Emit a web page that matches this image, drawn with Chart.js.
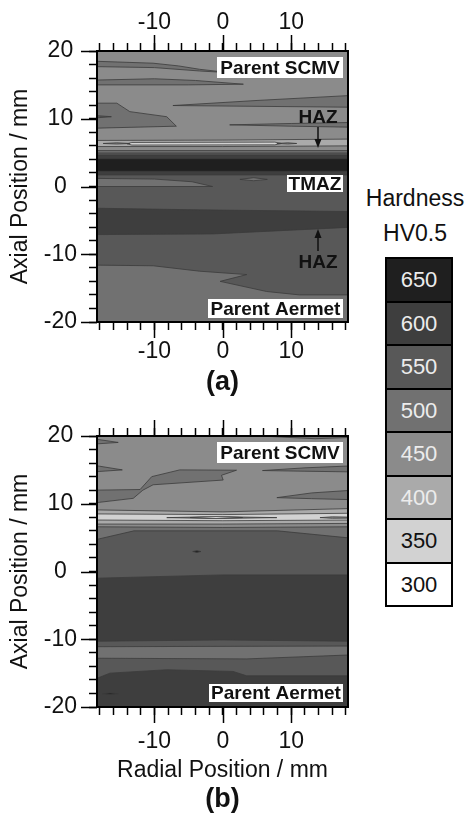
<!DOCTYPE html>
<html>
<head>
<meta charset="utf-8">
<script src="https://cdn.jsdelivr.net/npm/chart.js@4.4.1/dist/chart.umd.min.js"></script>
<style>
  body { margin: 0; background: #fff; font-family: "Liberation Sans", Arial, sans-serif; color: #111; }
  #page { position: relative; width: 467px; height: 819px; overflow: hidden; }
  canvas { position: absolute; left: 0; }
  #chartA { top: 0; }
  #chartB { top: 400px; }
  .keyTitle { position: absolute; left: 360px; width: 110px; text-align: center; font-size: 23px; line-height: 28px; }
  #keyCells { position: absolute; left: 385px; top: 257px; width: 64px; border: 2px solid #000; }
  #keyCells div { height: 41.5px; line-height: 41.5px; text-align: center; font-size: 22px; border-top: 2px solid #000; }
  #keyCells div:first-child { border-top: none; }
</style>
</head>
<body>
<div id="page">
  <canvas id="chartA" width="360" height="400"></canvas>
  <canvas id="chartB" width="360" height="419"></canvas>
  <div class="keyTitle" style="top:184px">Hardness</div>
  <div class="keyTitle" style="top:219px">HV0.5</div>
  <div id="keyCells"></div>
</div>
<script>
// hardness contour levels (HV0.5) and the grey used for each band
const levels = [300, 350, 400, 450, 500, 550, 600, 650];
const greys = ['#ffffff', '#d2d2d2', '#aaaaaa', '#8b8b8b', '#717171', '#585858', '#3e3e3e', '#1f1f1f'];

const radialRange = [-18.4, 18.3];
const axialRange = [-20, 20];
const radialTicks = [-18, -16, -14, -12, -10, -8, -6, -4, -2, 0, 2, 4, 6, 8, 10, 12, 14, 16, 18];
const majorTicks = [-20, -10, 0, 10, 20];

// weld (a): band of each region, bottom layer first
const bandsA = [550, 500, 600, 600, 650, 600, 550, 500, 450, 400, 450, 350, 450, 450,
                500, 500, 500, 500, 550, 500, 500, 500];
// outline of each region as [radial, axial] pairs in mm
const outlinesA = [
  [[-19, 21], [19, 21], [19, -21], [-19, -21]],
  [[-19, -11.6], [-10.2, -11.7], [-3.4, -12.5], [3.5, -13.0], [-0.4, -14.0], [6.4, -15.5], [11.2, -16.0], [19, -16.0], [19, -21], [-19, -21]],
  [[-19, -3.2], [-3.4, -3.45], [19, -3.7], [19, -6.0], [-1.5, -7.0], [-19, -7.1]],
  [[-19, 21], [19, 21], [19, 1.7], [-19, 1.7]],
  [[-19, 21], [19, 21], [19, 2.25], [-19, 2.25]],
  [[-19, 21], [19, 21], [19, 4.1], [-19, 4.1]],
  [[-19, 21], [19, 21], [19, 4.65], [-19, 4.65]],
  [[-19, 21], [19, 21], [19, 4.95], [-19, 4.95]],
  [[-19, 21], [19, 21], [19, 5.3], [-19, 5.3]],
  [[-19, 21], [19, 21], [19, 6.0], [0, 5.9], [-19, 5.9]],
  [[-19, 21], [19, 21], [19, 7.0], [0, 6.85], [-19, 6.8]],
  [[-14, 6.3], [-13.3, 6.5], [7.6, 6.55], [8.6, 6.35], [7.6, 6.15], [-13.3, 6.12]],
  [[-17.5, 6.35], [-15.5, 6.45], [-13.6, 6.35], [-15.5, 6.27]],
  [[7.9, 6.35], [9.5, 6.45], [10.8, 6.35], [9.5, 6.27]],
  [[-19, 18.5], [-10.2, 18.2], [-6.5, 17.8], [-3.4, 17.3], [1, 16.8], [-3.4, 17.05], [-10, 17.55], [-19, 17.7]],
  [[-19, 15.7], [-10, 15.9], [-4, 15.65], [3, 15.1], [-5, 15.0], [-19, 15.0]],
  [[-7.3, 11.95], [5, 12.7], [19, 13.45], [19, 11.7]],
  [[-19, 12.3], [-15.5, 12.3], [-13.6, 11.05], [-8.2, 10.3], [-6.8, 8.9], [-19, 8.6]],
  [[-19, 10.5], [-16.3, 10.3], [-19, 10.1]],
  [[1.0, 9.1], [10, 9.3], [19, 9.45], [19, 8.75], [10, 8.9]],
  [[-19, 1.2], [-10, 1.1], [-4.5, 0.7], [-1.5, 0.0], [-19, 0.0]],
  [[2.5, 1.05], [4.5, 1.3], [6.5, 1.05], [4.5, 0.85]]
];

// weld (b)
const bandsB = [600, 550, 500, 550, 500, 450, 400, 450, 350, 450, 450, 300,
                500, 500, 500, 500, 500, 500, 650, 650];
const outlinesB = [
  [[-19, 21], [19, 21], [19, -21], [-19, -21]],
  [[-19, -10.3], [0, -10.1], [19, -10.3], [19, -15.4], [3.5, -15.4], [1.5, -14.75], [-8.2, -14.5], [-16.5, -15.0], [-19, -16.0]],
  [[-19, -11.1], [19, -11.0], [19, -12.3], [3.5, -12.9], [-19, -12.8]],
  [[-19, 21], [19, 21], [19, -0.5], [0, -0.5], [-19, -1.0]],
  [[-19, 21], [19, 21], [19, 4.9], [8, 6.0], [-13, 6.0], [-19, 4.6]],
  [[-19, 21], [19, 21], [19, 6.6], [0, 6.5], [-19, 6.6]],
  [[-19, 21], [19, 21], [19, 7.1], [0, 7.0], [-19, 7.0]],
  [[-19, 21], [19, 21], [19, 9.3], [0, 8.8], [-19, 9.1]],
  [[-19, 8.5], [0, 8.4], [19, 8.6], [19, 7.6], [0, 7.5], [-19, 7.6]],
  [[-8.2, 7.95], [-1, 8.1], [7.9, 7.95], [-1, 7.82]],
  [[14.2, 7.95], [16, 8.07], [19, 8.02], [19, 7.88], [16, 7.85]],
  [[-4.8, 7.97], [-1, 8.1], [2.9, 7.97], [-1, 7.85]],
  [[-19, 19.6], [-15.3, 19.05], [-19, 18.8]],
  [[-19, 15.7], [-14.7, 15.0], [-19, 14.7]],
  [[-19, 12.0], [-12.1, 12.1], [-10.4, 14.0], [-6.3, 15.0], [2.0, 14.95], [-0.2, 14.2], [0.05, 13.5], [-10.2, 12.8], [-11.7, 12.0], [-13.1, 10.8], [-19, 10.1]],
  [[5.8, 14.9], [12, 15.3], [19, 15.6], [19, 14.7], [12, 14.8]],
  [[7.9, 10.9], [13, 11.6], [19, 12.0], [19, 10.6], [13, 10.75]],
  [[6.4, 20.5], [19, 20.5], [19, 19.8], [13.5, 19.6], [6.4, 19.95]],
  [[-4.4, 2.95], [-3.8, 3.08], [-3.2, 2.95], [-3.8, 2.82]],
  [[-17.6, -18.05], [-16.5, -17.93], [-15.3, -18.05], [-16.5, -18.17]]
];

const fontFamily = '"Liberation Sans", Arial, sans-serif';

// legend cells, highest level on top
const keyCells = document.getElementById('keyCells');
levels.slice().reverse().forEach(lv => {
  const cell = document.createElement('div');
  cell.textContent = lv;
  cell.style.background = greys[levels.indexOf(lv)];
  cell.style.color = lv >= 400 ? '#ececec' : '#111';
  keyCells.appendChild(cell);
});

// each region is a closed polygon filled with its band grey
function buildDatasets(bands, outlines) {
  return outlines.map((pts, i) => ({
    data: pts.concat([pts[0]]).map(([x, y]) => ({x, y})),
    showLine: true,
    fill: 'shape',
    backgroundColor: greys[levels.indexOf(bands[i])],
    borderColor: '#3b3b3b',
    borderWidth: 0.8,
    pointRadius: 0,
    pointHoverRadius: 0,
    tension: 0
  })).reverse(); // first dataset is drawn last, so flip to keep the layer order
}

// longer ticks at the labelled values plus the black frame
const frameAndTicks = {
  id: 'frameAndTicks',
  afterDraw(chart) {
    const {ctx, chartArea: a} = chart;
    ctx.save();
    ctx.strokeStyle = '#000';
    ctx.lineWidth = 1.5;
    ctx.beginPath();
    Object.values(chart.scales).forEach(s => {
      majorTicks.forEach(v => {
        if (v < s.min || v > s.max) return;
        const p = Math.round(s.getPixelForValue(v)) + 0.5;
        if (s.position === 'left') { ctx.moveTo(a.left - 16, p); ctx.lineTo(a.left, p); }
        if (s.position === 'top') { ctx.moveTo(p, a.top - 16); ctx.lineTo(p, a.top); }
        if (s.position === 'bottom') { ctx.moveTo(p, a.bottom); ctx.lineTo(p, a.bottom + 16); }
      });
    });
    ctx.stroke();
    ctx.lineWidth = 2;
    ctx.strokeRect(a.left, a.top, a.right - a.left, a.bottom - a.top);
    ctx.restore();
  }
};

// zone labels, arrows and the panel tag
const notes = {
  id: 'notes',
  afterDraw(chart, args, opts) {
    const {ctx, chartArea: a} = chart;
    ctx.save();
    ctx.textAlign = 'center';
    ctx.textBaseline = 'middle';
    ctx.font = 'bold 19px ' + fontFamily;
    (opts.boxes || []).forEach(b => {
      const x = a.right - b.right - b.w;
      const y = b.top !== undefined ? a.top + b.top : a.bottom - b.bottom - b.h;
      ctx.fillStyle = '#fff';
      ctx.fillRect(x, y, b.w, b.h);
      ctx.fillStyle = '#111';
      ctx.fillText(b.text, x + b.w / 2, y + b.h / 2 + 1);
    });
    (opts.arrows || []).forEach(r => {
      const x = a.right - r.right;
      ctx.fillStyle = '#111';
      ctx.fillText(r.text, x, a.top + r.textY);
      const y1 = a.top + r.from, y2 = a.top + r.to;
      const dir = Math.sign(y2 - y1);
      ctx.strokeStyle = '#111';
      ctx.lineWidth = 1.5;
      ctx.beginPath();
      ctx.moveTo(x, y1);
      ctx.lineTo(x, y2 - dir * 6);
      ctx.stroke();
      ctx.beginPath();
      ctx.moveTo(x, y2);
      ctx.lineTo(x - 3.5, y2 - dir * 9);
      ctx.lineTo(x + 3.5, y2 - dir * 9);
      ctx.closePath();
      ctx.fill();
    });
    if (opts.tag) {
      ctx.font = 'bold 27px ' + fontFamily;
      ctx.fillStyle = '#111';
      ctx.fillText(opts.tag, (a.left + a.right) / 2, a.bottom + opts.tagY);
    }
    ctx.restore();
  }
};

function makeChart(id, bands, outlines, cfg) {
  const font = {family: fontFamily, size: 23};
  const grid = {drawOnChartArea: false, drawTicks: true, tickLength: 8, tickColor: '#000', tickWidth: 1.5};
  const tenths = v => (v % 10 === 0 ? String(v) : '');
  const radialTickList = s => { s.ticks = radialTicks.map(v => ({value: v})); };
  return new Chart(document.getElementById(id), {
    type: 'scatter',
    data: {datasets: buildDatasets(bands, outlines)},
    options: {
      responsive: false,
      animation: false,
      events: [],
      layout: {padding: {left: 0, right: 12, top: 0, bottom: cfg.padBottom}},
      plugins: {legend: {display: false}, tooltip: {enabled: false}, notes: cfg.notes},
      scales: {
        x: {
          type: 'linear', position: 'bottom', min: radialRange[0], max: radialRange[1], bounds: 'data',
          afterBuildTicks: radialTickList,
          ticks: {autoSkip: false, maxRotation: 0, padding: cfg.bottomPad, font, color: '#111', callback: tenths},
          grid, border: {display: false},
          title: {display: !!cfg.xTitle, text: cfg.xTitle || '', font, color: '#111', padding: {top: 0, bottom: 5}},
          afterFit: s => { s.height = cfg.bottomHeight; }
        },
        xTop: {
          axis: 'x', type: 'linear', position: 'top', min: radialRange[0], max: radialRange[1], bounds: 'data',
          afterBuildTicks: radialTickList,
          ticks: {autoSkip: false, maxRotation: 0, padding: 7, font, color: '#111',
                  callback: v => (cfg.topLabels ? tenths(v) : '')},
          grid, border: {display: false},
          afterFit: s => { s.height = cfg.topHeight; }
        },
        y: {
          type: 'linear', position: 'left', min: axialRange[0], max: axialRange[1],
          ticks: {stepSize: 2, autoSkip: false, padding: 12, crossAlign: 'center', font, color: '#111', callback: tenths},
          grid, border: {display: false},
          title: {display: true, text: 'Axial Position / mm', font, color: '#111', padding: {top: 7, bottom: 0}},
          afterFit: s => { s.width = 97; }
        }
      }
    },
    plugins: [frameAndTicks, notes]
  });
}

makeChart('chartA', bandsA, outlinesA, {
  padBottom: 0, bottomHeight: 78, topHeight: 51, topLabels: true, bottomPad: 8,
  notes: {
    boxes: [
      {text: 'Parent SCMV', right: 5, top: 6, w: 126, h: 21},
      {text: 'TMAZ', right: 5, top: 124, w: 56, h: 17},
      {text: 'Parent Aermet', right: 5, bottom: 4, w: 135, h: 19}
    ],
    arrows: [
      {text: 'HAZ', right: 30, textY: 67, from: 76, to: 97},
      {text: 'HAZ', right: 30, textY: 212, from: 200, to: 178}
    ],
    tag: '(a)', tagY: 61
  }
});

makeChart('chartB', bandsB, outlinesB, {
  padBottom: 30, bottomHeight: 82, topHeight: 36, topLabels: false, bottomPad: 13,
  xTitle: 'Radial Position / mm',
  notes: {
    boxes: [
      {text: 'Parent SCMV', right: 5, top: 6, w: 126, h: 21},
      {text: 'Parent Aermet', right: 5, bottom: 5, w: 134, h: 18}
    ],
    tag: '(b)', tagY: 93
  }
});
</script>
</body>
</html>
